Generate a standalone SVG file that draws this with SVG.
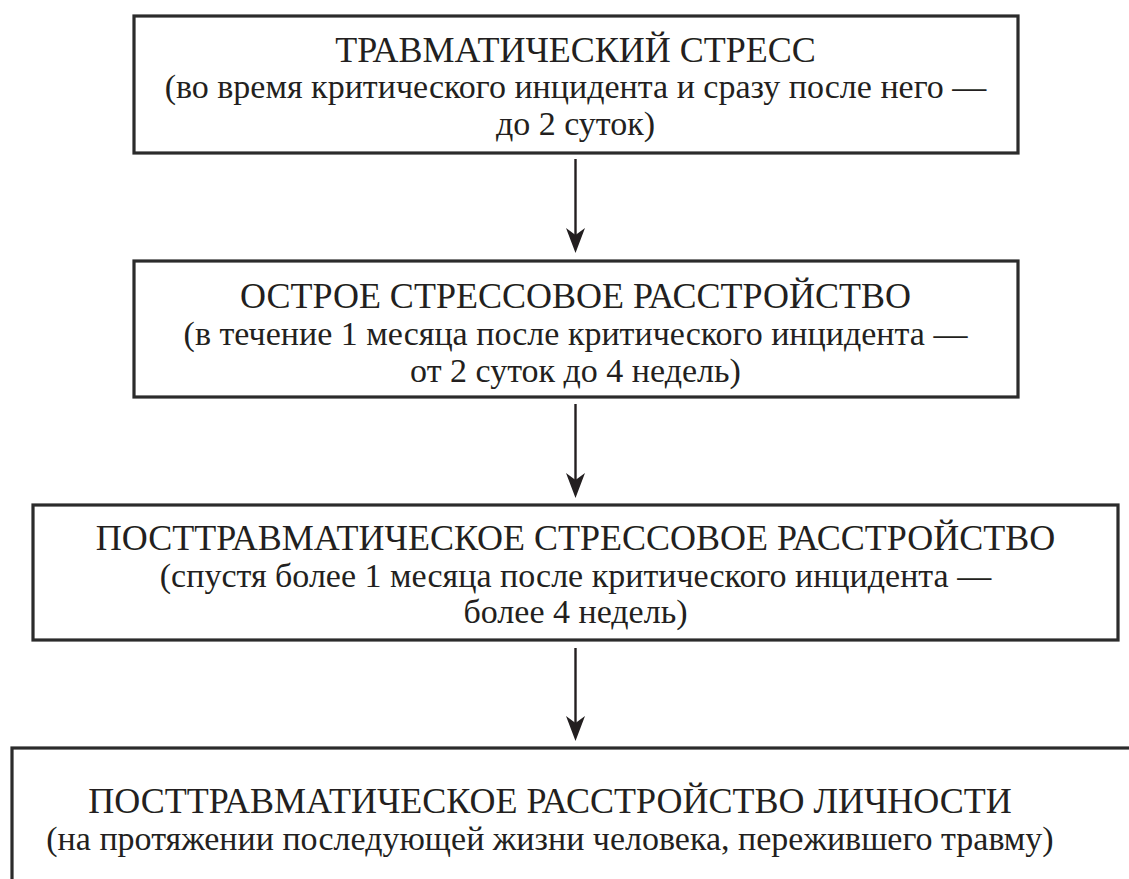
<svg xmlns="http://www.w3.org/2000/svg" width="1129" height="879" viewBox="0 0 1129 879">
<style>
.box{fill:#ffffff;stroke:#2b2b2b;stroke-width:3.2}
.t{fill:#231f20;text-anchor:middle}
.conn{stroke:#231f20;stroke-width:2.4;fill:none}
.head{fill:#231f20;stroke:none}
</style>
<rect width="1129" height="879" fill="#ffffff"/>
<g id="node1">
<rect class="box" x="134" y="16" width="884" height="137"/>
<text class="t" style="font-family:'Liberation Serif';font-size:36px" x="575.5" y="62">ТРАВМАТИЧЕСКИЙ СТРЕСС</text>
<text class="t" style="font-family:'Liberation Serif';font-size:34px" x="575.5" y="98">(во время критического инцидента и сразу после него —</text>
<text class="t" style="font-family:'Liberation Serif';font-size:34px" x="575.5" y="135">до 2 суток)</text>
</g>
<g id="node2">
<rect class="box" x="134" y="261" width="884" height="136"/>
<text class="t" style="font-family:'Liberation Serif';font-size:36px" x="575.5" y="308">ОСТРОЕ СТРЕССОВОЕ РАССТРОЙСТВО</text>
<text class="t" style="font-family:'Liberation Serif';font-size:34px" x="575.5" y="345">(в течение 1 месяца после критического инцидента —</text>
<text class="t" style="font-family:'Liberation Serif';font-size:34px" x="575.5" y="382">от 2 суток до 4 недель)</text>
</g>
<g id="node3">
<rect class="box" x="33" y="505" width="1085" height="135"/>
<text class="t" style="font-family:'Liberation Serif';font-size:36px" x="575.5" y="550">ПОСТТРАВМАТИЧЕСКОЕ СТРЕССОВОЕ РАССТРОЙСТВО</text>
<text class="t" style="font-family:'Liberation Serif';font-size:34px" x="575.5" y="587">(спустя более 1 месяца после критического инцидента —</text>
<text class="t" style="font-family:'Liberation Serif';font-size:34px" x="575.5" y="623">более 4 недель)</text>
</g>
<g id="node4">
<rect class="box" x="12" y="748" width="1130" height="150"/>
<text class="t" style="font-family:'Liberation Serif';font-size:36px" x="550" y="813">ПОСТТРАВМАТИЧЕСКОЕ РАССТРОЙСТВО ЛИЧНОСТИ</text>
<text class="t" style="font-family:'Liberation Serif';font-size:34px" x="550" y="850">(на протяжении последующей жизни человека, пережившего травму)</text>
</g>
<g id="connectors">
<line class="conn" x1="575.5" y1="159" x2="575.5" y2="238"/>
<path class="head" d="M575.5,253 L566,228 L575.5,235 L585,228 Z"/>
<line class="conn" x1="575.5" y1="404" x2="575.5" y2="483"/>
<path class="head" d="M575.5,498 L566,473 L575.5,480 L585,473 Z"/>
<line class="conn" x1="575.5" y1="648" x2="575.5" y2="726"/>
<path class="head" d="M575.5,741 L566,716 L575.5,723 L585,716 Z"/>
</g>
</svg>
